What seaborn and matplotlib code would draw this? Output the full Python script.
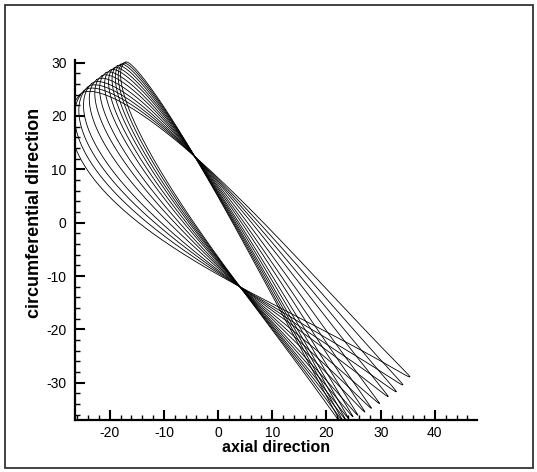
import numpy as np
import pandas as pd
import seaborn as sns
import matplotlib
matplotlib.use("Agg")
from matplotlib import pyplot as plt
from matplotlib.patches import Rectangle
from matplotlib.ticker import MultipleLocator

# upper-left ends of the loops (outer -> inner)
top_x = [-25.5, -24.8, -24.1, -23.3, -22.4, -21.5, -20.7, -19.9, -19.2, -18.6, -18.0, -17.5, -17.1]
top_y = [24.0, 24.7, 25.4, 26.1, 26.8, 27.5, 28.1, 28.6, 29.0, 29.4, 29.7, 29.9, 30.1]
# lower-right hairpin ends of the loops (outer -> inner)
bot_x = [35.4, 34.1, 32.9, 31.4, 29.8, 28.3, 27.1, 25.8, 24.9, 24.1, 23.6, 23.1, 22.7]
bot_y = [-28.9, -30.4, -31.7, -32.6, -33.9, -34.8, -35.5, -36.1, -36.4, -36.7, -37.0, -37.3, -37.6]
# the two narrow waists every loop passes through
waist_up = (-4.3, 12.4)
waist_lo = (4.0, -12.0)

x_ticks = [-20, -10, 0, 10, 20, 30, 40]
y_ticks = [-30, -20, -10, 0, 10, 20, 30]

taper = 0.85  # loops are fat at the upper-left end, thin at the lower-right


def loop_points(T, B, n=400):
    T = np.array(T)
    B = np.array(B)
    mid = (T + B) / 2
    h = np.linalg.norm(B - T) / 2
    u = (B - T) / (2 * h)
    v = np.array([-u[1], u[0]])
    if v[1] < 0:
        v = -v

    def width_through(P, sign):
        d = np.array(P) - mid
        s = d @ u / h
        off = sign * (d @ v)
        return off / (np.sqrt(1 - s ** 2) * (1 - taper * s))

    w_up = width_through(waist_up, 1)
    w_lo = width_through(waist_lo, -1)
    t = np.linspace(0, np.pi, n)
    s = -np.cos(t)
    prof = np.sin(t) * (1 - taper * s)
    up = mid + np.outer(s * h, u) + np.outer(w_up * prof, v)
    lo = mid + np.outer(s[::-1] * h, u) - np.outer(w_lo * prof[::-1], v)
    return np.vstack([up, lo])


rows = []
for i in range(len(top_x)):
    pts = loop_points((top_x[i], top_y[i]), (bot_x[i], bot_y[i]))
    rows.append(pd.DataFrame({"x": pts[:, 0], "y": pts[:, 1], "loop": i}))
df = pd.concat(rows, ignore_index=True)

sns.set_style("ticks")
plt.rcParams["font.family"] = ["Liberation Sans", "DejaVu Sans"]
plt.rcParams["axes.unicode_minus"] = False

fig = plt.figure(figsize=(5.37, 4.72), dpi=100)
ax = fig.add_axes([75 / 537, 1 - 420 / 472, 401.6 / 537, 360 / 472])

sns.lineplot(data=df, x="x", y="y", units="loop", estimator=None, sort=False,
             color="black", linewidth=0.6, ax=ax, legend=False)

ax.set_xlim(-26.4, 47.7)
ax.set_ylim(-37.0, 30.5)
ax.set_xticks(x_ticks)
ax.set_yticks(y_ticks)
ax.xaxis.set_minor_locator(MultipleLocator(2))
ax.yaxis.set_minor_locator(MultipleLocator(2))
ax.tick_params(which="both", direction="in", color="black", labelcolor="black", labelsize=10)
ax.tick_params(which="major", length=7, width=1.5)
ax.tick_params(which="minor", length=3.5, width=1.0)
ax.tick_params(axis="y", pad=6)
ax.tick_params(axis="x", pad=4)
for side in ["top", "right"]:
    ax.spines[side].set_visible(False)
for side in ["left", "bottom"]:
    ax.spines[side].set_linewidth(1.6)
    ax.spines[side].set_color("black")

ax.set_xlabel("axial direction", fontsize=11.5, fontweight="bold", color="black")
ax.set_ylabel("circumferential direction", fontsize=13, fontweight="bold", color="black")
ax.xaxis.set_label_coords(0.5, -0.055)
ax.yaxis.set_label_coords(-0.08, 0.575)

fig.patches.append(Rectangle((5 / 537, 4 / 472), 528 / 537, 463 / 472,
                             transform=fig.transFigure, fill=False,
                             edgecolor="#333333", linewidth=1.3))

fig.savefig("out.png", dpi=100)
